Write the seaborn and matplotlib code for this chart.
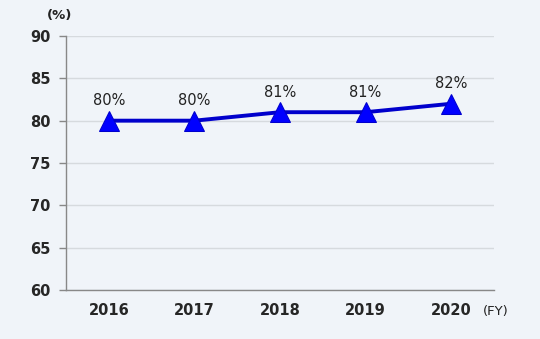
import matplotlib
matplotlib.use("Agg")
import matplotlib.pyplot as plt
import seaborn as sns
import pandas as pd
import numpy as np

years = ["2016", "2017", "2018", "2019", "2020"]
values = [80, 80, 81, 81, 82]
labels = ["80%", "80%", "81%", "81%", "82%"]
yticks = [60, 65, 70, 75, 80, 85, 90]

sns.set_theme(style="white")
plt.rcParams['font.family'] = ['DejaVu Sans']

bg = '#f0f4f9'
fig = plt.figure(figsize=(5.4, 3.39), dpi=100, facecolor=bg)
ax = fig.add_axes([0.1222, 0.1445, 0.7926, 0.7493])
ax.set_facecolor(bg)

df = pd.DataFrame({"year": years, "value": values})
df["pos"] = np.arange(len(years))
sns.lineplot(data=df, x="pos", y="value", ax=ax, color='#0000cc', linewidth=2.8,
             marker='^', markersize=15, markerfacecolor='#0000ff', markeredgecolor='#0000cc')

for p, v, t in zip(df["pos"], values, labels):
    ax.annotate(t, (p, v), xytext=(0, 9), textcoords='offset points',
                ha='center', va='bottom', fontsize=10.5, color='#222222')

ax.set_xlim(-0.5, len(years) - 0.5)
ax.set_ylim(60, 90)
ax.set_yticks(yticks)
ax.set_yticklabels([str(y) for y in yticks], fontweight='bold', fontsize=10.5)
ax.set_xticks(df["pos"])
ax.set_xticklabels(years, fontweight='bold', fontsize=10.5)
ax.set_xticks(np.arange(-0.5, len(years), 1.0), minor=True)
ax.tick_params(axis='x', which='major', length=0, pad=9)
ax.tick_params(axis='x', which='minor', length=5, color='#888888', width=1, direction='out')
ax.tick_params(axis='y', length=5, color='#888888', width=1, direction='out', pad=6, left=True)
ax.grid(axis='y', color='#d6dade', linewidth=1)
ax.set_axisbelow(True)
for s in ['top', 'right']:
    ax.spines[s].set_visible(False)
for s in ['left', 'bottom']:
    ax.spines[s].set_color('#888888')
    ax.spines[s].set_linewidth(1)
ax.set_xlabel("")
ax.set_ylabel("")

fig.text(47 / 540, 1 - 16 / 339, "(%)", fontsize=9.5, fontweight='bold', color='#222222', ha='left', va='center')
fig.text(483 / 540, 1 - 311 / 339, "(FY)", fontsize=9.5, color='#222222', ha='left', va='center')

fig.savefig("out.png", dpi=100, facecolor=bg)
